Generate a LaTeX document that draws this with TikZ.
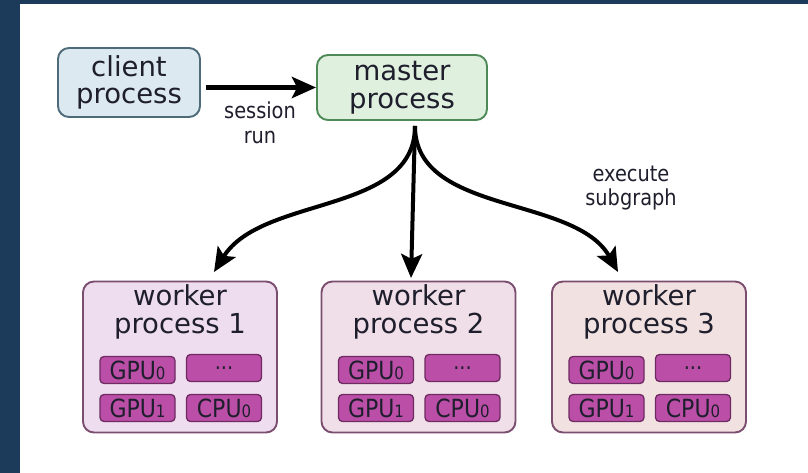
\documentclass[tikz,border=0pt]{standalone}
\usepackage{fontspec}
\setmainfont{DejaVu Sans}
\newfontfamily\narrowsans[FakeStretch=0.88]{DejaVu Sans}
\usetikzlibrary{arrows.meta}

\definecolor{slate}{HTML}{1C3A5A}
\definecolor{ink}{HTML}{1E1E2C}
\definecolor{clientfill}{HTML}{DDE9F0}
\definecolor{clientline}{HTML}{4D6B78}
\definecolor{masterfill}{HTML}{DFF0DF}
\definecolor{masterline}{HTML}{4E8A57}
\definecolor{workerA}{HTML}{EEDDEF}
\definecolor{workerB}{HTML}{F0DFE8}
\definecolor{workerC}{HTML}{F2E1E1}
\definecolor{workerline}{HTML}{7B4D6E}
\definecolor{unitfill}{HTML}{BB4FA8}
\definecolor{unitline}{HTML}{6E2B62}

\newcommand{\idx}[1]{{\fontsize{17}{17}\selectfont #1}}

\tikzset{
  procbox/.style={draw, rounded corners=11pt, line width=1.9pt, inner sep=0pt},
  proctext/.style={align=center, text=ink, inner sep=0pt,
                   font=\fontsize{27.5}{27.5}\selectfont},
  unitbox/.style={draw=unitline, fill=unitfill, rounded corners=4pt,
                  line width=1.3pt, minimum width=75pt, minimum height=27pt,
                  inner sep=0pt, text=ink,
                  font=\narrowsans\fontsize{25}{25}\selectfont},
  note/.style={align=center, text=ink, inner sep=0pt,
               font=\narrowsans\fontsize{22}{24.5}\selectfont},
  flow/.style={line width=4pt, draw=black,
               -{Stealth[length=24pt,width=21pt,inset=5pt]}},
}

\begin{document}
\begin{tikzpicture}[x=1pt,y=-1pt]
  % page frame: dark border on the left and top, white sheet
  \useasboundingbox (0,0) rectangle (808,473);
  \fill[slate] (0,0) rectangle (808,473);
  \fill[white] (20,4) rectangle (808,473);

  % client and master
  \node[procbox, draw=clientline, fill=clientfill,
        minimum width=142pt, minimum height=69pt, proctext] (client)
        at (129,82.5) {client\\process};
  \node[procbox, draw=masterline, fill=masterfill,
        minimum width=170pt, minimum height=65pt, proctext] (master)
        at (402,87.5) {master\\process};

  \draw[flow, line width=4.8pt, shorten <=5pt]
        (client.east |- master.west) -- (master.west);
  \node[note] (sess) at (260,123) {session\\run};

  % workers with their devices
  \foreach \n/\cx/\fc in {1/180/workerA, 2/418.5/workerB, 3/649/workerC}{
    \node[procbox, draw=workerline, fill=\fc,
          minimum width=194pt, minimum height=151pt] (w\n) at (\cx,357) {};
    \node[proctext] (w\n t) at (\cx,312) {worker\\process \n};
    \node[unitbox] (w\n g0) at ([xshift=-42.5pt,yshift=-13pt]w\n.center) {GPU\idx{0}};
    \node[unitbox] (w\n d)  at ([xshift=44pt,yshift=-11pt]w\n.center)
          {\fontsize{22}{22}\selectfont ...};
    \node[unitbox] (w\n g1) at ([xshift=-42.5pt,yshift=-51pt]w\n.center) {GPU\idx{1}};
    \node[unitbox] (w\n c0) at ([xshift=44pt,yshift=-51pt]w\n.center) {CPU\idx{0}};
  }

  % fan-out from the master to the workers
  \coordinate (src) at (415,126);
  \coordinate (t1) at (214,272);
  \coordinate (t2) at (411,278);
  \coordinate (t3) at (618,272);
  \draw[flow] (src) .. controls (415,215) and (262,195) .. (t1);
  \draw[flow] (src) -- (t2);
  \draw[flow] (src) .. controls (415,215) and (575,195) .. (t3);
  \node[note] (exec) at (631,188) {execute\\subgraph};
\end{tikzpicture}
\end{document}
